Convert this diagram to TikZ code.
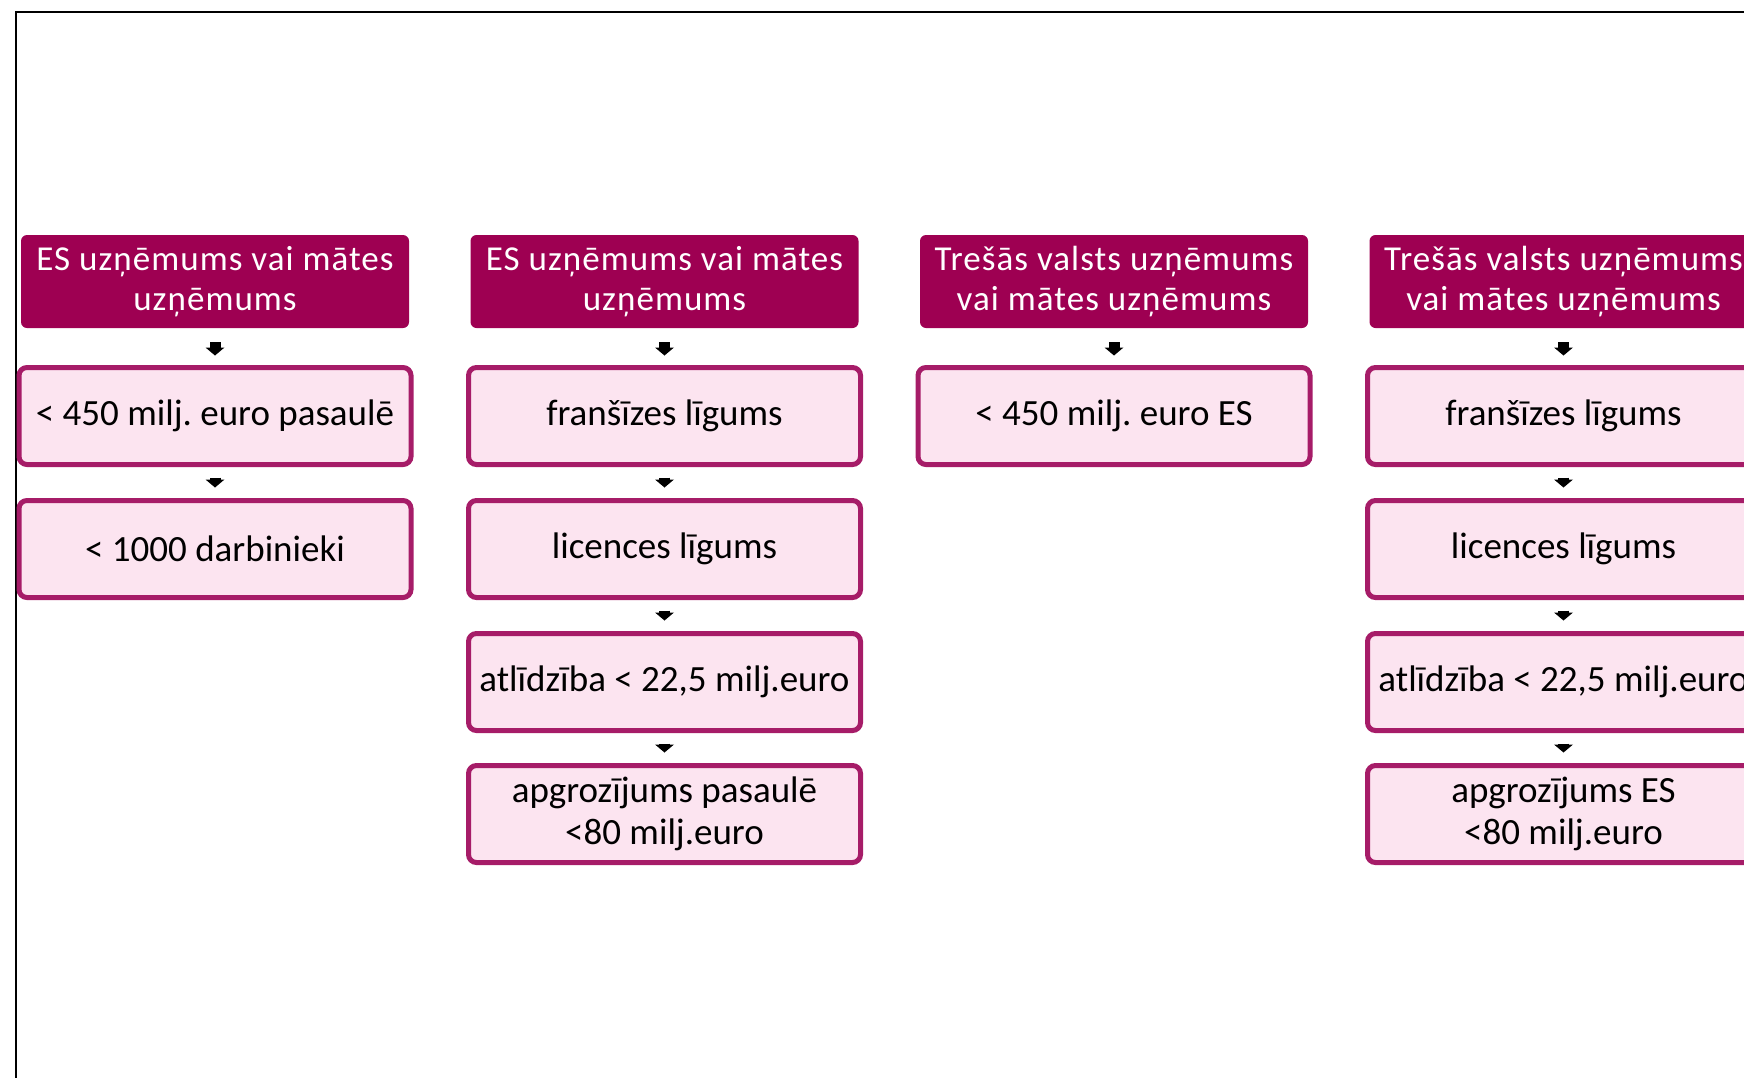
\documentclass[tikz,border=0pt]{standalone}
\usepackage{fontspec}
\setmainfont{Carlito}
\usepackage{tikz}
\usetikzlibrary{arrows.meta}

\definecolor{headfill}{RGB}{158,0,82}
\definecolor{boxline}{RGB}{166,28,104}
\definecolor{boxfill}{RGB}{252,228,240}

\tikzset{
  head/.style={rectangle,rounded corners=3pt,fill=headfill,text=white,
    minimum width=194pt,minimum height=46.5pt,inner sep=0pt,align=center,
    font=\fontsize{17.5pt}{20pt}\selectfont\addfontfeature{LetterSpace=3}},
  crit/.style={rectangle,rounded corners=4pt,draw=boxline,line width=2.5pt,fill=boxfill,
    minimum width=196pt,minimum height=48.5pt,inner sep=0pt,align=center,
    font=\fontsize{18.5pt}{21pt}\selectfont},
  darrow/.style={line width=5.5pt,-{Triangle[width=9.5pt,length=4pt,line width=0pt]},
    shorten <=5.25pt,shorten >=5.25pt},
  harrow/.style={darrow,shorten <=7pt,shorten >=4.75pt}
}

\begin{document}
\frenchspacing
\begin{tikzpicture}[x=0.5pt,y=-0.5pt]
  \clip (0,0) rectangle (1744,1077);
  \draw[line width=1pt] (16,12) rectangle (1800,1100);

  \draw (215,281.5) node[head] (esA) {ES uzņēmums vai mātes\\uzņēmums};
    \draw (215,416) node[crit] (esA1) {< 450 milj. euro pasaulē};
    \draw (215,549) node[crit] (esA2) {< 1000 darbinieki};

  \draw (664.5,281.5) node[head] (esB) {ES uzņēmums vai mātes\\uzņēmums};
    \draw (664.5,416) node[crit] (esB1) {franšīzes līgums};
    \draw (664.5,549) node[crit] (esB2) {licences līgums};
    \draw (664.5,682) node[crit] (esB3) {atlīdzība < 22,5 milj.euro};
    \draw (664.5,814) node[crit] (esB4) {apgrozījums pasaulē\\<80 milj.euro};

  \draw (1114,281.5) node[head] (tvA) {Trešās valsts uzņēmums\\vai mātes uzņēmums};
    \draw (1114,416) node[crit] (tvA1) {< 450 milj. euro ES};

  \draw (1563.5,281.5) node[head] (tvB) {Trešās valsts uzņēmums\\vai mātes uzņēmums};
    \draw (1563.5,416) node[crit] (tvB1) {franšīzes līgums};
    \draw (1563.5,549) node[crit] (tvB2) {licences līgums};
    \draw (1563.5,682) node[crit] (tvB3) {atlīdzība < 22,5 milj.euro};
    \draw (1563.5,814) node[crit] (tvB4) {apgrozījums ES\\<80 milj.euro};

  \path[harrow] (esA) edge (esA1);
  \path[darrow] (esA1) edge (esA2);

  \path[harrow] (esB) edge (esB1);
  \path[darrow] (esB1) edge (esB2);
  \path[darrow] (esB2) edge (esB3);
  \path[darrow] (esB3) edge (esB4);

  \path[harrow] (tvA) edge (tvA1);

  \path[harrow] (tvB) edge (tvB1);
  \path[darrow] (tvB1) edge (tvB2);
  \path[darrow] (tvB2) edge (tvB3);
  \path[darrow] (tvB3) edge (tvB4);
\end{tikzpicture}
\end{document}
